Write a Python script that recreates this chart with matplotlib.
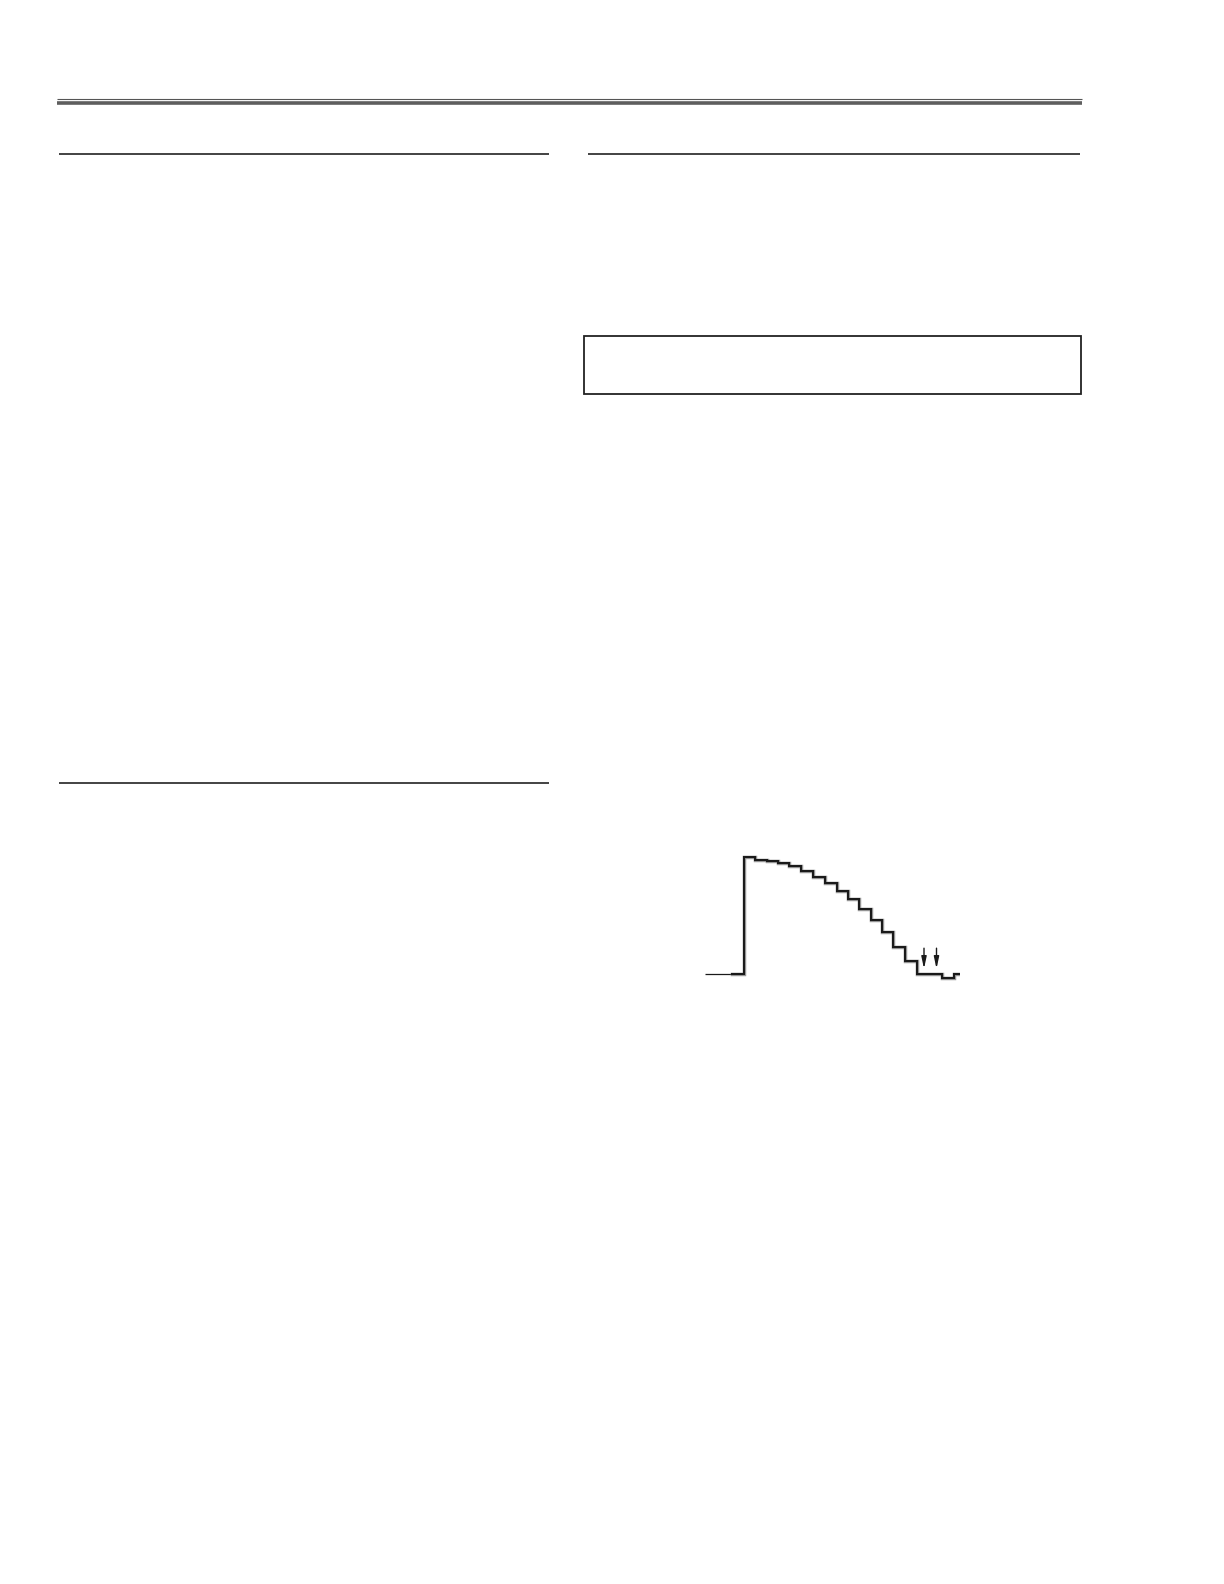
import matplotlib
matplotlib.use("Agg")
import matplotlib.pyplot as plt
from matplotlib.patches import Rectangle

# ---- waveform data (staircase signal) ----
step_edges = [0, 39.3, 50, 61.7, 73.3, 84.3, 96, 108.3, 120, 131.7, 142.7,
              154.3, 165.7, 177, 188.3, 200, 211.7, 236.7, 249.3, 255]
step_levels = [0, 100, 97.4, 96, 94.3, 91.7, 87.4, 82.9, 77.5, 70.9, 63.8,
               55.8, 46.2, 36.2, 23.3, 11.1, 0, -3.2, 0]
arrow_times = [219, 231.5]
arrow_top = 22.0
arrow_tip = 4.5
lead_in_end = 27  # portion of the leading baseline drawn thin

W, H = 1224, 1584
fig = plt.figure(figsize=(W / 100, H / 100), dpi=100)
fig.patch.set_facecolor("white")

# ---- page decoration in pixel coordinates ----
page = fig.add_axes([0, 0, 1, 1])
page.set_xlim(0, W)
page.set_ylim(H, 0)
page.axis("off")

page.plot([57, 1082], [99.3, 99.3], color="#555555", lw=0.8, solid_capstyle="butt")
page.plot([57, 1082], [103.4, 103.4], color="#5e5e5e", lw=2.6, solid_capstyle="butt")
page.plot([59, 549], [154, 154], color="#222222", lw=1.2, solid_capstyle="butt")
page.plot([588, 1080], [154, 154], color="#222222", lw=1.2, solid_capstyle="butt")
page.plot([59, 549], [783, 783], color="#222222", lw=1.2, solid_capstyle="butt")
page.add_patch(Rectangle((584, 336), 497, 58, fill=False, edgecolor="#222222", lw=1.3))

# ---- waveform axes ----
x0_px, x1_px = 705, 960
px_per_unit = 1.173
y_lo, y_hi = -10, 110
base_px = 974
bottom_px = base_px - y_lo * px_per_unit
top_px = base_px - y_hi * px_per_unit
ax = fig.add_axes([x0_px / W, (H - bottom_px) / H,
                   (x1_px - x0_px) / W, (bottom_px - top_px) / H])
ax.set_xlim(0, 255)
ax.set_ylim(y_lo, y_hi)
ax.axis("off")

xs = []
ys = []
for i, lv in enumerate(step_levels):
    x_start = step_edges[i] if i > 0 else lead_in_end
    xs += [x_start, step_edges[i + 1]]
    ys += [lv, lv]
ax.plot([step_edges[0], lead_in_end], [step_levels[0]] * 2,
        color="#1a1a1a", lw=0.9, solid_capstyle="butt")
ax.plot(xs, ys, color="#9a9a9a", lw=2.5, solid_joinstyle="miter")
ax.plot(xs, ys, color="#1a1a1a", lw=1.5, solid_joinstyle="miter")

for t in arrow_times:
    ax.annotate("", xy=(t, arrow_tip), xytext=(t, arrow_top),
                arrowprops=dict(arrowstyle="-|>,head_length=0.7,head_width=0.15",
                                color="#1a1a1a", lw=1.0, shrinkA=0, shrinkB=0))

fig.savefig("out.png", dpi=100, facecolor="white")
